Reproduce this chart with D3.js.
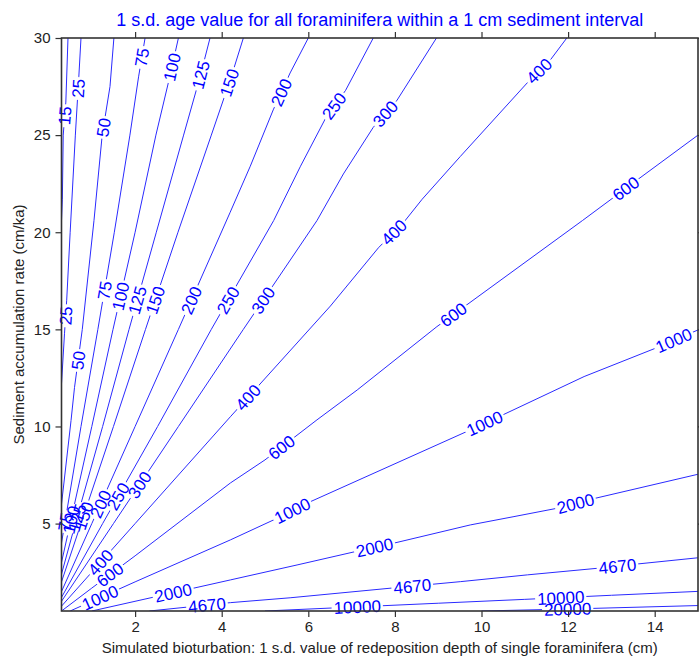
<!DOCTYPE html>
<html>
<head>
<meta charset="utf-8">
<script src="https://cdn.jsdelivr.net/npm/d3@7"></script>
<style>
body { margin: 0; background: #fff; }
svg { display: block; font-family: "Liberation Sans", Arial, sans-serif; }
</style>
</head>
<body>
<svg></svg>
<script>
// contour levels (1 s.d. age, years)
var levels = [15, 25, 50, 75, 100, 125, 150, 200, 250, 300, 400, 600, 1000, 2000, 4670, 10000, 20000];

// contour lines: [depth s.d. (cm), accumulation rate (cm/ka)]
var c15 = [[0.30, 20.6], [0.32, 21.7], [0.34, 25.0], [0.40, 26.7], [0.45, 30]];
var c25 = [[0.30, 12.2], [0.37, 14.8], [0.42, 16.5], [0.50, 20.0], [0.62, 25.0], [0.70, 28.0], [0.75, 30]];
var c50 = [[0.30, 6.0], [0.52, 10.3], [0.60, 12.0], [0.78, 15.0], [1.05, 20.6], [1.24, 25.0], [1.42, 27.5], [1.51, 30]];
var c75 = [[0.30, 4.0], [0.75, 10.0], [1.14, 15.0], [1.52, 20.0], [1.88, 25.0], [2.08, 28.0], [2.23, 30]];
var c100 = [[0.30, 3.0], [0.50, 5.0], [1.0, 10.0], [1.49, 15.0], [2.0, 20.0], [2.48, 25.0], [2.80, 28.0], [3.0, 30]];
var c125 = [[0.30, 2.4], [0.62, 5.0], [1.25, 10.0], [1.86, 15.0], [2.49, 20.0], [3.12, 25.0], [3.50, 28.0], [3.73, 30]];
var c150 = [[0.30, 2.0], [0.75, 5.0], [1.50, 10.0], [2.24, 15.0], [2.99, 20.0], [3.76, 25.0], [4.22, 28.0], [4.5, 30]];
var c200 = [[0.30, 1.5], [1.0, 5.0], [2.0, 10.0], [3.0, 15.0], [4.19, 21.0], [4.66, 23.4], [5.19, 26.3], [5.58, 28.2], [6.0, 30]];
var c250 = [[0.30, 1.2], [1.25, 5.0], [2.52, 10.0], [3.76, 15.0], [5.2, 20.6], [5.82, 23.4], [6.43, 26.0], [6.86, 27.3], [7.5, 30]];
var c300 = [[0.30, 1.0], [1.5, 5.0], [3.0, 10.0], [4.5, 15.0], [6.2, 20.6], [6.81, 23.0], [7.5, 25.4], [8.05, 26.8], [8.96, 30]];
var c400 = [[0.30, 0.75], [2.0, 5.0], [4.2, 10.5], [4.81, 12.0], [6.51, 16.2], [7.62, 19.2], [8.2, 20.5], [8.63, 21.7], [9.51, 23.9], [11.06, 27.7], [11.6, 28.9], [11.97, 30]];
var c600 = [[0.30, 0.5], [1.0, 1.68], [2.0, 3.34], [4.2, 7.09], [5.0, 8.28], [6.2, 10.34], [7.13, 11.88], [8.97, 15.14], [12.33, 20.6], [13.6, 22.7], [15.0, 25.0]];
var c1000 = [[0.5, 0.5], [2.0, 2.0], [4.2, 4.16], [5.2, 5.19], [6.05, 6.13], [9.74, 9.82], [10.4, 10.5], [12.37, 12.57], [14.02, 14.03], [15.0, 14.97]];
var c2000 = [[1.0, 0.5], [2.5, 1.25], [4.2, 2.10], [5.74, 2.87], [7.09, 3.56], [7.97, 3.99], [9.74, 4.93], [10.75, 5.36], [11.75, 5.79], [12.64, 6.31], [15.0, 7.54]];
var c4670 = [[2.33, 0.5], [4.2, 0.93], [5.58, 1.18], [7.97, 1.69], [9.51, 2.01], [11.06, 2.36], [12.68, 2.70], [13.6, 2.92], [15.0, 3.24]];
var c10000 = [[5.0, 0.5], [7.0, 0.70], [9.0, 0.90], [11.0, 1.10], [13.0, 1.31], [15.0, 1.51]];
var c20000 = [[10.0, 0.5], [12.0, 0.6], [15.0, 0.78]];
var contourLines = [c15, c25, c50, c75, c100, c125, c150, c200, c250, c300, c400, c600, c1000, c2000, c4670, c10000, c20000];

// where the inline labels sit: by rate for steep lines, by depth for flat ones
var labelRates = [[26.0], [27.4, 15.7], [25.4, 13.4], [29.0, 17.0, 5.1], [28.5, 16.7, 5.2], [28.1, 16.5, 5.3], [27.7, 16.5, 5.4],
    [27.2, 16.5, 6.0], [26.5, 16.5, 6.4], [26.1, 16.5, 7.0], [28.3, 20.0, 11.5, 3.0], [], [], [], [], [], []];
var labelDepths = [[], [], [], [], [], [], [], [], [], [], [],
    [13.33, 9.35, 5.38, 1.42], [14.44, 10.07, 5.63, 1.19], [12.17, 7.53, 2.88], [13.14, 8.4, 3.66], [11.83, 7.13], [11.99]];

var xTicks = [2, 4, 6, 8, 10, 12, 14];
var yTicks = [5, 10, 15, 20, 25, 30];

var W = 699, H = 658;
var padL = 61.5, padR = 698, padT = 38, padB = 611;
var blue = '#0000ff';

var svg = d3.select('svg').attr('width', W).attr('height', H);
var x = d3.scaleLinear().domain([0.3, 15]).range([padL, padR]);
var y = d3.scaleLinear().domain([0.5, 30]).range([padB, padT]);
var line = d3.line().x(function(d) { return x(d[0]); }).y(function(d) { return y(d[1]); });

var defs = svg.append('defs');
defs.append('clipPath').attr('id', 'plot')
    .append('rect').attr('x', padL).attr('y', padT).attr('width', padR - padL).attr('height', padB - padT);

// find a point on a polyline where coordinate k equals v, plus the screen angle there
function pointAt(pts, k, v) {
    for (var i = 0; i < pts.length - 1; i++) {
        var a = pts[i], b = pts[i + 1];
        if ((a[k] - v) * (b[k] - v) <= 0 && a[k] != b[k]) {
            var t = (v - a[k]) / (b[k] - a[k]);
            var px = x(a[0] + t * (b[0] - a[0]));
            var py = y(a[1] + t * (b[1] - a[1]));
            var ang = Math.atan2(y(b[1]) - y(a[1]), x(b[0]) - x(a[0])) * 180 / Math.PI;
            if (ang > 90) ang -= 180;
            if (ang < -90) ang += 180;
            return { x: px, y: py, a: ang };
        }
    }
    return null;
}

var masks = [];
contourLines.forEach(function(pts, i) {
    var m = defs.append('mask').attr('id', 'm' + i).attr('maskUnits', 'userSpaceOnUse')
        .attr('x', 0).attr('y', 0).attr('width', W).attr('height', H);
    m.append('rect').attr('width', W).attr('height', H).attr('fill', 'white');
    masks.push(m);
});

var gLines = svg.append('g').attr('clip-path', 'url(#plot)');
contourLines.forEach(function(pts, i) {
    gLines.append('path').attr('d', line(pts)).attr('fill', 'none')
        .attr('stroke', '#2a2aff').attr('stroke-width', 1).attr('mask', 'url(#m' + i + ')');
});

var gLab = svg.append('g');
contourLines.forEach(function(pts, i) {
    var spots = [];
    labelRates[i].forEach(function(v) { spots.push(pointAt(pts, 1, v)); });
    labelDepths[i].forEach(function(v) { spots.push(pointAt(pts, 0, v)); });
    spots.forEach(function(p) {
        if (!p) return;
        var tr = 'translate(' + p.x + ',' + p.y + ') rotate(' + p.a + ')';
        var t = gLab.append('text').attr('transform', tr).attr('text-anchor', 'middle')
            .attr('dy', '0.36em').attr('font-size', 17).attr('fill', blue).text(levels[i]);
        var w = t.node().getComputedTextLength();
        masks[i].append('rect').attr('x', -w / 2 - 2).attr('y', -7).attr('width', w + 4).attr('height', 14)
            .attr('transform', tr).attr('fill', 'black');
    });
});

function styleAxis(g) {
    g.select('.domain').remove();
    g.selectAll('.tick line').attr('stroke', '#333').attr('stroke-width', 1.2);
    g.selectAll('.tick text').attr('font-size', 15).attr('fill', '#222')
        .attr('font-family', '"Liberation Sans", Arial, sans-serif');
}

svg.append('g').attr('transform', 'translate(0,' + padB + ')')
    .call(d3.axisBottom(x).tickValues(xTicks).tickSize(6).tickPadding(4)).call(styleAxis);
svg.append('g').attr('transform', 'translate(0,' + padT + ')')
    .call(d3.axisTop(x).tickValues(xTicks).tickSize(6).tickFormat('')).call(styleAxis);
svg.append('g').attr('transform', 'translate(' + padL + ',0)')
    .call(d3.axisLeft(y).tickValues(yTicks).tickSize(6).tickPadding(5)).call(styleAxis);
svg.append('g').attr('transform', 'translate(' + padR + ',0)')
    .call(d3.axisRight(y).tickValues(yTicks).tickSize(6).tickFormat('')).call(styleAxis);

svg.append('rect').attr('x', padL).attr('y', padT).attr('width', padR - padL).attr('height', padB - padT)
    .attr('fill', 'none').attr('stroke', '#333').attr('stroke-width', 1.6);

svg.append('text').attr('x', (padL + padR) / 2).attr('y', 26).attr('text-anchor', 'middle')
    .attr('font-size', 18).attr('fill', blue)
    .text('1 s.d. age value for all foraminifera within a 1 cm sediment interval');
svg.append('text').attr('x', (padL + padR) / 2).attr('y', 653).attr('text-anchor', 'middle')
    .attr('font-size', 15).attr('fill', '#222')
    .text('Simulated bioturbation: 1 s.d. value of redeposition depth of single foraminifera (cm)');
svg.append('text').attr('transform', 'translate(24,' + (padT + padB) / 2 + ') rotate(-90)')
    .attr('text-anchor', 'middle').attr('font-size', 15).attr('fill', '#222')
    .text('Sediment accumulation rate (cm/ka)');
</script>
</body>
</html>
